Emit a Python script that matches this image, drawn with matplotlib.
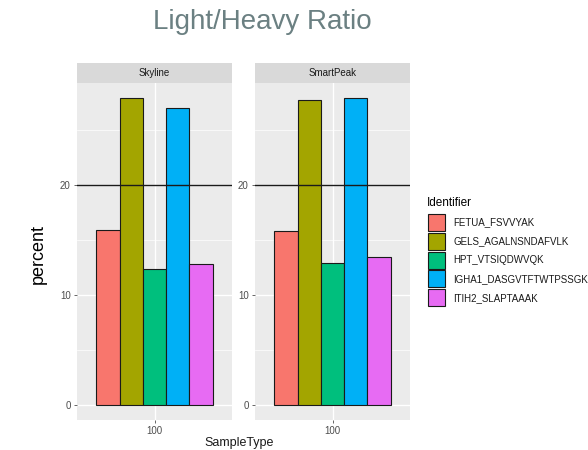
import matplotlib
matplotlib.use("Agg")
import matplotlib.pyplot as plt
from matplotlib.patches import Rectangle

plt.rcParams["font.family"] = ["Liberation Sans", "DejaVu Sans"]

panels = ["Skyline", "SmartPeak"]
identifiers = ["FETUA_FSVVYAK", "GELS_AGALNSNDAFVLK", "HPT_VTSIQDWVQK",
               "IGHA1_DASGVTFTWTPSSGK", "ITIH2_SLAPTAAAK"]
colors = ["#F8766D", "#A3A500", "#00BF7D", "#00B0F6", "#E76BF3"]
skyline_vals = [15.9, 27.9, 12.35, 27.0, 12.8]
smartpeak_vals = [15.8, 27.75, 12.9, 27.9, 13.5]
values = {"Skyline": skyline_vals, "SmartPeak": smartpeak_vals}
sample_types = ["100"]
yticks = [0, 10, 20]
threshold = 20

W, H = 588, 450
fig = plt.figure(figsize=(W / 100, H / 100), dpi=100)

def fx(x):
    return x / W

def fy(y):
    return 1 - y / H

top, bottom = 83, 420
lefts = [77, 255]
pw = 155
n = len(identifiers)
bw = 0.9 / n
ymin, ymax = -1.36, 29.3

for pi, (name, L) in enumerate(zip(panels, lefts)):
    ax = fig.add_axes([fx(L), fy(bottom), pw / W, (bottom - top) / H])
    ax.set_facecolor("#EBEBEB")
    for s in ax.spines.values():
        s.set_visible(False)
    ax.set_xlim(0.4, 1.6)
    ax.set_ylim(ymin, ymax)
    for y in [5, 15, 25]:
        ax.axhline(y, color="white", lw=0.5, zorder=0)
    for y in yticks:
        ax.axhline(y, color="white", lw=1.0, zorder=0)
    ax.axvline(1, color="white", lw=1.0, zorder=0)
    vals = values[name]
    for i, (v, c) in enumerate(zip(vals, colors)):
        x0 = 1 - 0.45 + i * bw
        ax.bar(x0, v, width=bw, align="edge", color=c, edgecolor="#1a1a1a",
               linewidth=0.8, zorder=2)
    ax.axhline(threshold, color="#1a1a1a", lw=1.0, zorder=3)
    ax.set_yticks(yticks)
    ax.set_yticklabels([str(t) for t in yticks])
    ax.set_xticks([1])
    ax.set_xticklabels(sample_types)
    ax.tick_params(axis="both", colors="#4D4D4D", labelsize=7, length=2.5,
                   width=0.6, pad=2)
    for lab in ax.get_xticklabels() + ax.get_yticklabels():
        lab.set_color("#4D4D4D")
    fig.patches.append(Rectangle((fx(L), fy(top)), pw / W, (top - 63) / H,
                                 transform=fig.transFigure, facecolor="#D9D9D9",
                                 edgecolor="none"))
    fig.text(fx(L + pw / 2), fy(73), name, ha="center", va="center",
             fontsize=7, color="#1A1A1A")

fig.text(fx(262), fy(22), "Light/Heavy Ratio", ha="center", va="center",
         fontsize=20, color="#6B8082")
fig.text(fx(38), fy(254), "percent", ha="center", va="center", rotation=90,
         fontsize=13, color="black")
fig.text(fx(239), fy(443), "SampleType", ha="center", va="center",
         fontsize=9, color="#1A1A1A")

# legend
fig.text(fx(427), fy(203), "Identifier", ha="left", va="center",
         fontsize=8.5, color="black")
ky = 214
for lab, c in zip(identifiers, colors):
    fig.patches.append(Rectangle((fx(428), fy(ky + 17)), 17 / W, 17 / H,
                                 transform=fig.transFigure, facecolor=c,
                                 edgecolor="#1a1a1a", linewidth=0.8))
    fig.text(fx(453), fy(ky + 8.5), lab, ha="left", va="center", fontsize=7,
             color="#1A1A1A")
    ky += 18.8

fig.savefig("out.png", dpi=100)
